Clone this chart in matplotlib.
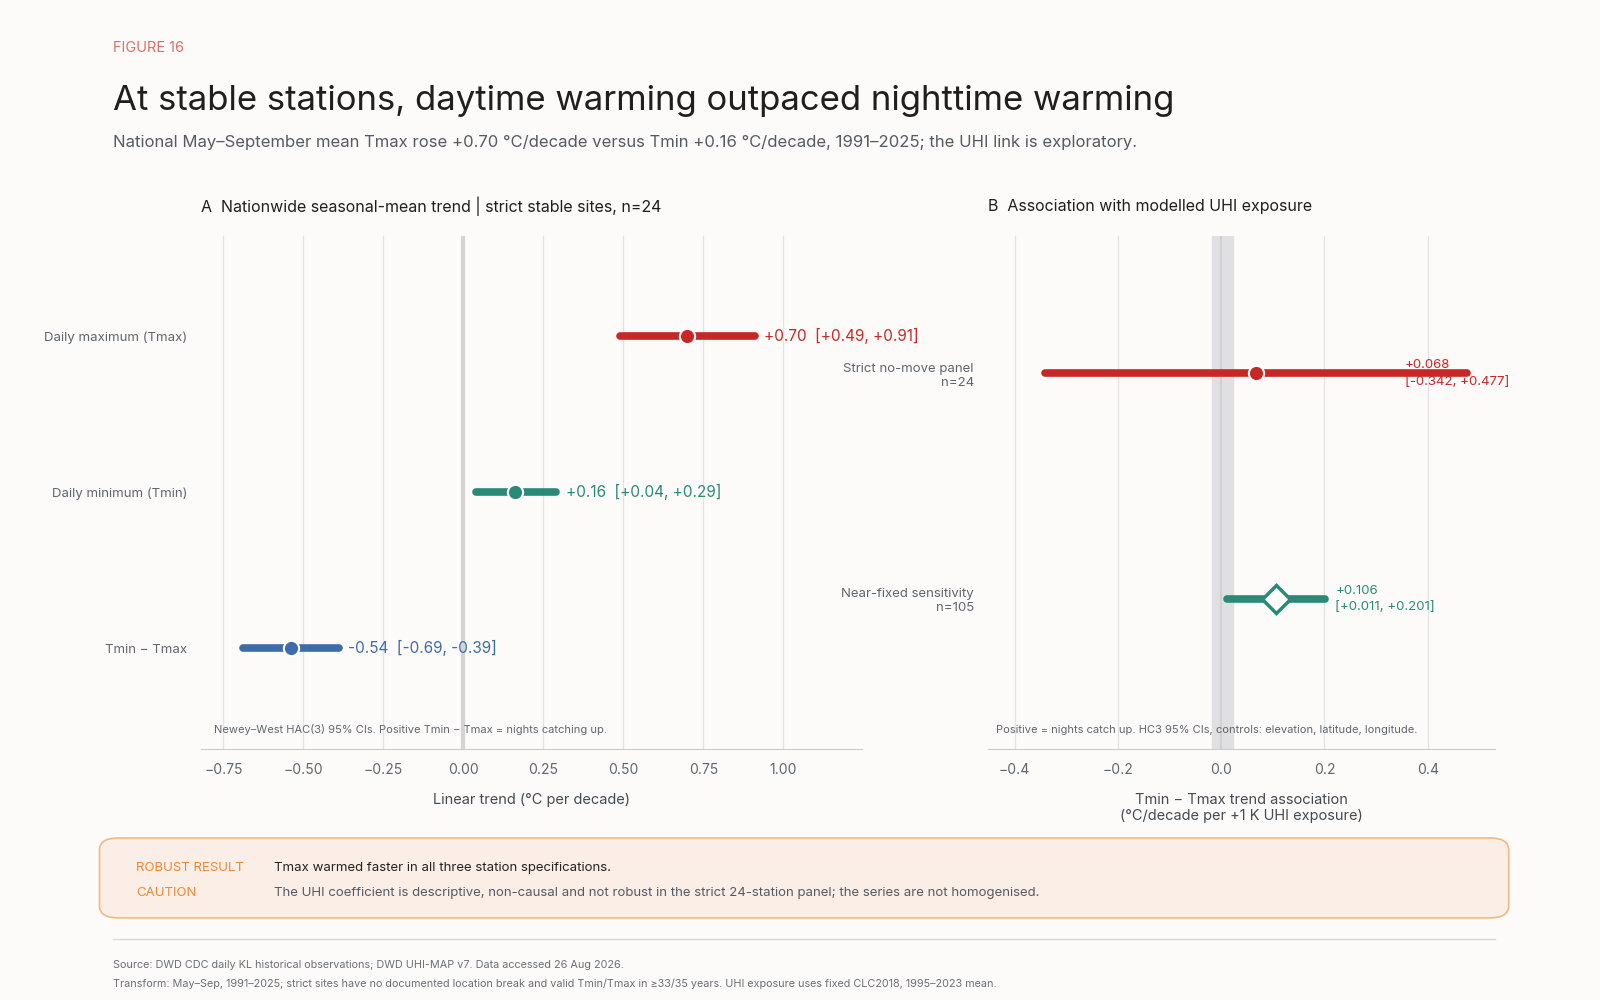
import matplotlib
matplotlib.use("Agg")
import matplotlib.pyplot as plt
from matplotlib.patches import FancyBboxPatch

plt.rcParams['font.family'] = ['Inter', 'DejaVu Sans']

# Panel A data
a_labels = ["Daily maximum (Tmax)", "Daily minimum (Tmin)", "Tmin − Tmax"]
a_est = [0.70, 0.16, -0.54]
a_lo = [0.49, 0.04, -0.69]
a_hi = [0.91, 0.29, -0.39]
a_colors = ["#c62828", "#2a8a78", "#3d6ca8"]
a_ticks = [-0.75, -0.50, -0.25, 0.00, 0.25, 0.50, 0.75, 1.00]

# Panel B data
b_labels = ["Strict no-move panel\nn=24", "Near-fixed sensitivity\nn=105"]
b_est = [0.068, 0.106]
b_lo = [-0.342, 0.011]
b_hi = [0.477, 0.201]
b_colors = ["#c62828", "#2a8a78"]
b_ticks = [-0.4, -0.2, 0.0, 0.2, 0.4]

BG = "#fcfbf9"
fig = plt.figure(figsize=(16, 10), dpi=100, facecolor=BG)
W, H = 1560, 975
def fx(p): return p / W
def fy(p): return 1 - p / H

fig.text(fx(110), fy(47), "FIGURE 16", color="#d9706a", fontsize=10.5, va="center")
fig.text(fx(110), fy(98), "At stable stations, daytime warming outpaced nighttime warming",
         color="#1f1f1f", fontsize=25, va="center")
fig.text(fx(110), fy(139), "National May–September mean Tmax rose +0.70 °C/decade versus Tmin +0.16 °C/decade, 1991–2025; the UHI link is exploratory.",
         color="#555a63", fontsize=12, va="center")

GRID = "#e3e3e3"
TXT = "#5f6570"

def style(ax):
    ax.set_facecolor(BG)
    for s in ["top", "right", "left"]:
        ax.spines[s].set_visible(False)
    ax.spines["bottom"].set_color("#cccccc")
    ax.tick_params(axis="x", length=0, labelsize=10, labelcolor=TXT, pad=10)
    ax.tick_params(axis="y", length=0, labelsize=9.5, labelcolor=TXT, pad=10)
    ax.grid(axis="x", color=GRID, lw=0.9)
    ax.set_axisbelow(True)

# Panel A
axA = fig.add_axes([fx(196), fy(730), fx(840 - 196), (730 - 230) / H])
style(axA)
axA.set_xlim(-0.82, 1.244)
axA.set_ylim(2.645, -0.645)
axA.set_xticks(a_ticks)
axA.set_xticklabels([f"{t:.2f}".replace("-", "−") for t in a_ticks])
axA.set_yticks(range(3))
axA.set_yticklabels(a_labels)
axA.axvline(0, color="#d4d4d4", lw=3, zorder=1)
for i in range(3):
    c = a_colors[i]
    axA.plot([a_lo[i], a_hi[i]], [i, i], color=c, lw=5.5, solid_capstyle="round", zorder=3)
    axA.plot(a_est[i], i, "o", ms=11, color=c, mec="white", mew=1.5, zorder=4)
    axA.text(a_hi[i] + 0.03, i, f"{a_est[i]:+.2f}  [{a_lo[i]:+.2f}, {a_hi[i]:+.2f}]",
             color=c, fontsize=11, va="center")
axA.text(-0.78, 2.52, "Newey–West HAC(3) 95% CIs. Positive Tmin − Tmax = nights catching up.",
         fontsize=8, color=TXT, va="center")
axA.set_xlabel("Linear trend (°C per decade)", fontsize=10.5, color="#444a52", labelpad=12)
fig.text(fx(196), fy(201), "A  Nationwide seasonal-mean trend | strict stable sites, n=24",
         fontsize=11.5, color="#1f1f1f", va="center")

# Panel B
axB = fig.add_axes([fx(963), fy(730), fx(1458 - 963), (730 - 230) / H])
style(axB)
axB.set_xlim(-0.452, 0.531)
axB.set_ylim(1.664, -0.609)
axB.set_xticks(b_ticks)
axB.set_xticklabels([f"{t:.1f}".replace("-", "−") for t in b_ticks])
axB.set_yticks(range(2))
axB.set_yticklabels(b_labels, ha="right", multialignment="right")
axB.axvspan(-0.018, 0.022, color="#e0e0e2", zorder=0.5)
axB.axvline(0, color="#d0d0d0", lw=1.5, zorder=1)
for i in range(2):
    c = b_colors[i]
    axB.plot([b_lo[i], b_hi[i]], [i, i], color=c, lw=5.5, solid_capstyle="round", zorder=3)
    if i == 0:
        axB.plot(b_est[i], i, "o", ms=11, color=c, mec="white", mew=1.5, zorder=4)
    else:
        axB.plot(b_est[i], i, "D", ms=14, color="white", mec=c, mew=2.5, zorder=4)
    x0 = 0.356 if i == 0 else b_hi[i] + 0.02
    axB.text(x0, i, f"{b_est[i]:+.3f}\n[{b_lo[i]:+.3f}, {b_hi[i]:+.3f}]",
             color=c, fontsize=9.5, va="center", linespacing=1.5)
axB.text(-0.435, 1.58, "Positive = nights catch up. HC3 95% CIs, controls: elevation, latitude, longitude.",
         fontsize=8, color=TXT, va="center")
axB.set_xlabel("Tmin − Tmax trend association\n(°C/decade per +1 K UHI exposure)",
               fontsize=10.5, color="#444a52", labelpad=12)
fig.text(fx(963), fy(201), "B  Association with modelled UHI exposure",
         fontsize=11.5, color="#1f1f1f", va="center")

# Callout box
box = FancyBboxPatch((fx(97), fy(895)), fx(1471 - 97), (895 - 817) / H,
                     boxstyle="round,pad=0,rounding_size=0.012", transform=fig.transFigure,
                     facecolor="#fbeee6", edgecolor="#f0b985", lw=1.2)
fig.patches.append(box)
fig.text(fx(133), fy(846), "ROBUST RESULT", color="#e8893a", fontsize=9.5, va="center")
fig.text(fx(267), fy(846), "Tmax warmed faster in all three station specifications.", color="#222222", fontsize=9.5, va="center")
fig.text(fx(133), fy(871), "CAUTION", color="#e8893a", fontsize=9.5, va="center")
fig.text(fx(267), fy(871), "The UHI coefficient is descriptive, non-causal and not robust in the strict 24-station panel; the series are not homogenised.",
         color="#555a63", fontsize=9.5, va="center")

fig.add_artist(plt.Line2D([fx(110), fx(1458)], [fy(916), fy(916)], color="#d8d8d8", lw=1))
fig.text(fx(110), fy(941), "Source: DWD CDC daily KL historical observations; DWD UHI-MAP v7. Data accessed 26 Aug 2026.",
         color="#6a6f78", fontsize=7.8, va="center")
fig.text(fx(110), fy(959), "Transform: May–Sep, 1991–2025; strict sites have no documented location break and valid Tmin/Tmax in ≥33/35 years. UHI exposure uses fixed CLC2018, 1995–2023 mean.",
         color="#6a6f78", fontsize=7.8, va="center")

fig.savefig("out.png", dpi=100, facecolor=BG)
